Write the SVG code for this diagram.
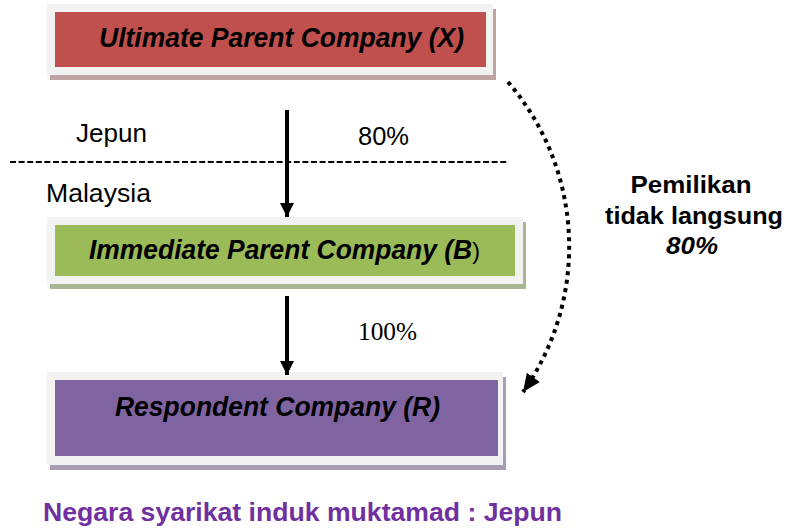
<svg xmlns="http://www.w3.org/2000/svg" width="789" height="531" viewBox="0 0 789 531">
<style>
.frame{fill:#f2f2f2}
.lbl{font-family:"Liberation Sans",Arial,sans-serif;font-weight:bold;font-style:italic;font-size:27px;fill:#000}
.plain{font-family:"Liberation Sans",Arial,sans-serif;font-size:25px;fill:#000}
.serif{font-family:"Liberation Serif","Times New Roman",serif;font-size:25px;fill:#000}
.side{font-family:"Liberation Sans",Arial,sans-serif;font-weight:bold;font-size:24px;fill:#000}
.foot{font-family:"Liberation Sans",Arial,sans-serif;font-weight:bold;font-size:25px;fill:#7030a0}
.arrow{stroke:#000;stroke-width:4;fill:none}
</style>
<defs>
<marker id="ah" markerUnits="userSpaceOnUse" markerWidth="16" markerHeight="16" viewBox="0 0 16 16" refX="14" refY="8" orient="auto">
<path d="M0,1 L14,8 L0,15 Z" fill="#000"/>
</marker>
<marker id="ah2" markerUnits="userSpaceOnUse" markerWidth="20" markerHeight="20" viewBox="0 0 20 20" refX="18" refY="10" orient="auto">
<path d="M0,2 L18,10 L0,18 Z" fill="#000"/>
</marker>
</defs>
<rect width="789" height="531" fill="#fff"/>

<g id="node-x">
<rect x="50" y="9" width="446" height="71" fill="#c0a4a4"/>
<rect class="frame" x="47" y="4" width="446" height="71"/>
<rect x="55" y="12" width="431" height="55" fill="#c0504d"/>
<text class="lbl" x="99" y="47" textLength="365" lengthAdjust="spacingAndGlyphs">Ultimate Parent Company (X)</text>
</g>

<g id="node-b">
<rect x="50" y="222" width="476" height="67" fill="#aab594"/>
<rect class="frame" x="47" y="217" width="476" height="67"/>
<rect x="55" y="225" width="460" height="51" fill="#9bbb59"/>
<text class="lbl" x="89" y="259" textLength="391" lengthAdjust="spacingAndGlyphs">Immediate Parent Company (B<tspan font-weight="normal" font-style="normal" font-size="24">)</tspan></text>
</g>

<g id="node-r">
<rect x="50" y="377" width="456" height="93" fill="#a89db5"/>
<rect class="frame" x="47" y="372" width="456" height="93"/>
<rect x="55" y="380" width="443" height="76" fill="#8064a2"/>
<text class="lbl" x="115" y="416" textLength="325" lengthAdjust="spacingAndGlyphs">Respondent Company (R)</text>
</g>

<line x1="10" y1="162" x2="507" y2="162" stroke="#000" stroke-width="2.2" stroke-dasharray="6 2.6"/>

<text class="plain" x="76" y="142" textLength="71" lengthAdjust="spacingAndGlyphs">Jepun</text>
<text class="plain" x="358" y="145" textLength="51" lengthAdjust="spacingAndGlyphs">80%</text>
<text class="plain" x="46" y="202" textLength="105" lengthAdjust="spacingAndGlyphs">Malaysia</text>
<text class="serif" x="358" y="340" textLength="59" lengthAdjust="spacingAndGlyphs">100%</text>

<g id="connectors">
<line class="arrow" x1="287" y1="110" x2="287" y2="217" marker-end="url(#ah)"/>
<line class="arrow" x1="287" y1="296" x2="287" y2="375" marker-end="url(#ah)"/>
<path d="M508,82 A252,252 0 0 1 523,392" fill="none" stroke="#000" stroke-width="4" stroke-dasharray="4 4.5" marker-end="url(#ah2)"/>
</g>

<g id="side-label">
<text class="side" x="691" y="193" text-anchor="middle" textLength="121" lengthAdjust="spacingAndGlyphs">Pemilikan</text>
<text class="side" x="694" y="224" text-anchor="middle" textLength="178" lengthAdjust="spacingAndGlyphs">tidak langsung</text>
<text class="side" x="692" y="254" text-anchor="middle" font-style="italic" textLength="52" lengthAdjust="spacingAndGlyphs">80%</text>
</g>

<text class="foot" x="43" y="521" textLength="519" lengthAdjust="spacingAndGlyphs">Negara syarikat induk muktamad : Jepun</text>
</svg>
